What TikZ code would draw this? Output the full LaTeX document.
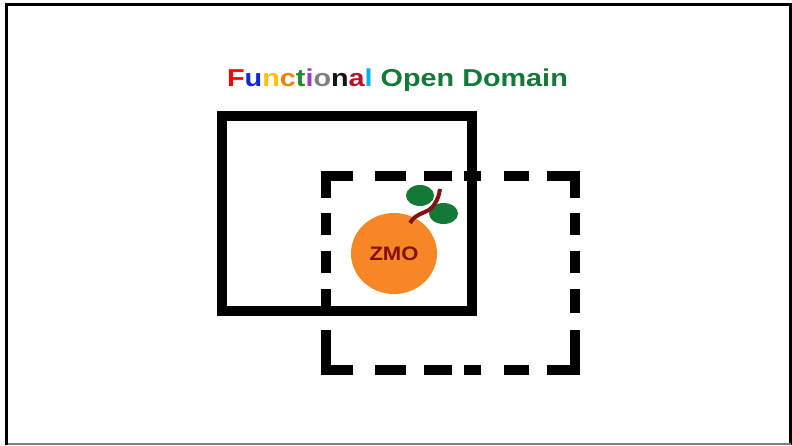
\documentclass[tikz,border=0pt]{standalone}
\usepackage{fontspec}
\setmainfont{Liberation Sans}
\usepackage{tikz}
\usetikzlibrary{shapes.geometric}

\definecolor{zmoorange}{RGB}{247,134,36}
\definecolor{zmored}{RGB}{130,16,20}
\definecolor{leafgreen}{RGB}{18,122,52}
\definecolor{cred}{RGB}{255,0,0}
\definecolor{cblue}{RGB}{20,40,210}
\definecolor{cgold}{RGB}{255,192,0}
\definecolor{corange}{RGB}{240,128,10}
\definecolor{cgreen}{RGB}{30,140,40}
\definecolor{cpurple}{RGB}{150,60,200}
\definecolor{cgrey}{RGB}{128,128,128}
\definecolor{cblack}{RGB}{20,20,20}
\definecolor{ccrimson}{RGB}{180,20,40}
\definecolor{ccyan}{RGB}{0,176,240}

\begin{document}
\begin{tikzpicture}
    [
    x=1pt, y=-1pt,
    frame/.style={line width=3pt},
    box/.style={line width=10pt, line join=miter},
    dashbox/.style={box, dash pattern=on 31pt off 18pt on 28pt off 12pt on 17pt off 23pt on 25pt off 18pt on 49.5pt
      off 15pt on 22pt off 16pt on 22pt off 16pt on 24pt off 17pt on 67.5pt
      off 18pt on 25pt off 23pt on 17pt off 12pt on 28pt off 18pt on 31pt off 22pt on 67pt
      off 17pt on 24pt off 16pt on 22pt off 16pt on 22pt off 15pt on 49pt off 22pt},
    leaf/.style={ellipse, fill=leafgreen, inner sep=0pt, minimum height=21pt},
    ]
    \useasboundingbox (0,0) rectangle (792,445);
    \draw [frame] (6.5,445) -- (6.5,4.5) -- (790.5,4.5) -- (790.5,445);
    \draw [gray, line width=1.5pt] (8,444) -- (790.5,444);

    \node (title) at (397.5,86.5) [anchor=base, xscale=1.18, font=\fontsize{24.4}{26}\selectfont\bfseries]
      {\textcolor{cred}{F}\textcolor{cblue}{u}\textcolor{cgold}{n}\textcolor{corange}{c}\textcolor{cgreen}{t}%
       \textcolor{cpurple}{i}\textcolor{cgrey}{o}\textcolor{cblack}{n}\textcolor{ccrimson}{a}\textcolor{ccyan}{l}
       \textcolor{leafgreen}{Open Domain}};

    \coordinate (s1) at (221.5,115.5);
    \coordinate (s2) at (472,310.5);
    \draw [box] (s1) rectangle (s2);

    \coordinate (d1) at (326,176);
    \coordinate (d2) at (574.5,370);
    \draw [dashbox] ([xshift=49pt]d1) -- (d1 -| d2) -- (d2) -- (d2 -| d1) -- (d1) -- cycle;

    \node (zmo) at (394,253.5) [ellipse, fill=zmoorange, inner sep=0pt, minimum width=86pt, minimum height=81pt,
      text=zmored, font=\fontsize{19.5}{20}\selectfont\bfseries] {\scalebox{1.13}[1]{ZMO}};
    \node (leaf1) at (420,195.5) [leaf, minimum width=28pt] {};
    \node (leaf2) at (443.5,213.5) [leaf, minimum width=29pt] {};
    \coordinate (stem1) at (410,223);
    \coordinate (stem2) at (440,189);
    \draw [zmored, line width=4pt] (stem1) .. controls (416,212) and (428,214) .. (434,205)
      .. controls (438,199) and (439,195) .. (stem2);
\end{tikzpicture}
\end{document}
